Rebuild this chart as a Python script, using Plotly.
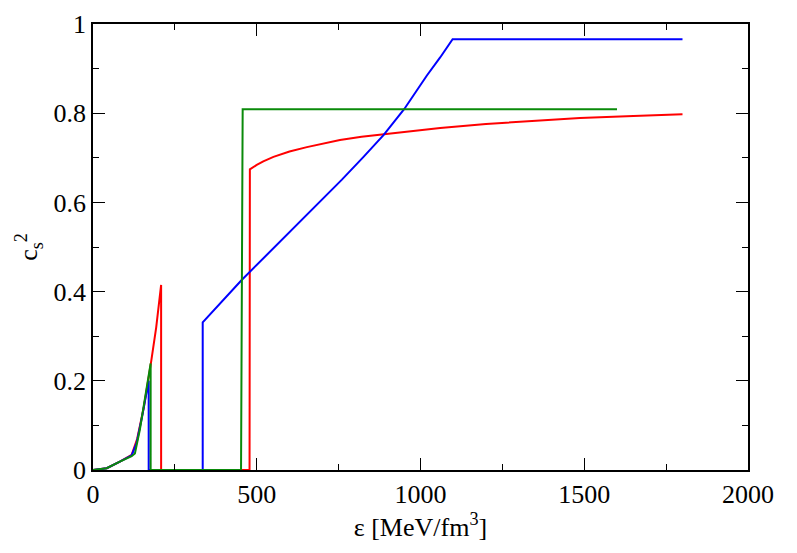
import plotly.graph_objects as go

# Red EoS
red_x = [0, 42, 82, 118, 135, 155, 177, 193, 208, 208, 478, 479, 500, 520, 551, 600, 653, 700, 754, 820, 887,
         970, 1060, 1200, 1350, 1487, 1650, 1800]
red_y = [0, 0.004, 0.019, 0.034, 0.07, 0.14, 0.24, 0.32, 0.415, 0, 0, 0.674, 0.684, 0.692, 0.702, 0.714, 0.724,
         0.732, 0.740, 0.747, 0.753, 0.760, 0.767, 0.776, 0.783, 0.789, 0.794, 0.7975]

# Blue EoS
blue_x = [0, 42, 82, 118, 133, 150, 170, 170, 335, 335, 454, 546, 650, 760, 826, 887, 950, 1019, 1060, 1098, 1800]
blue_y = [0, 0.004, 0.019, 0.033, 0.06, 0.12, 0.20, 0, 0, 0.331, 0.426, 0.493, 0.569, 0.651, 0.702,
          0.751, 0.809, 0.884, 0.925, 0.966, 0.966]

# Green EoS
green_x = [0, 42, 82, 118, 128, 143, 176, 176, 452, 457, 1600]
green_y = [0, 0.004, 0.019, 0.031, 0.037, 0.09, 0.239, 0, 0, 0.809, 0.809]

x_ticks = [0, 500, 1000, 1500, 2000]
y_ticks = [0, 0.2, 0.4, 0.6, 0.8, 1]
y_tick_labels = ["0", "0.2", "0.4", "0.6", "0.8", "1"]

FONT = "Times New Roman, Liberation Serif, Tinos, serif"

fig = go.Figure()
fig.add_trace(go.Scatter(x=red_x, y=red_y, mode="lines", line=dict(color="#ff0000", width=2), showlegend=False))
fig.add_trace(go.Scatter(x=blue_x, y=blue_y, mode="lines", line=dict(color="#0000ff", width=2), showlegend=False))
fig.add_trace(go.Scatter(x=green_x, y=green_y, mode="lines", line=dict(color="#0a8a0a", width=2), showlegend=False))

axis_common = dict(
    showgrid=False, zeroline=False, showline=True, linecolor="black", linewidth=1.5,
    mirror="allticks", ticks="inside", ticklen=12, tickwidth=1.2, tickcolor="black",
    tickfont=dict(family=FONT, size=26, color="black"), automargin=False,
)

fig.update_xaxes(
    range=[0, 2000], tickvals=x_ticks, ticktext=[str(v) for v in x_ticks],
    minor=dict(dtick=250, ticklen=6, ticks="inside", tickcolor="black", tickwidth=1.2),
    title=dict(text="ε [MeV/fm<sup>3</sup>]", font=dict(family=FONT, size=26, color="black"), standoff=2),
    **axis_common,
)
fig.update_yaxes(
    range=[0, 1], tickvals=y_ticks, ticktext=y_tick_labels,
    minor=dict(dtick=0.1, ticklen=6, ticks="inside", tickcolor="black", tickwidth=1.2),
    title=dict(text="c<sub>s</sub><sup>2</sup>", font=dict(family=FONT, size=26, color="black"), standoff=8),
    **axis_common,
)

fig.update_layout(
    width=797, height=553,
    margin=dict(l=85, r=57, t=16, b=91),
    paper_bgcolor="white", plot_bgcolor="white",
    font=dict(family=FONT),
)

fig.write_html("out.html")
